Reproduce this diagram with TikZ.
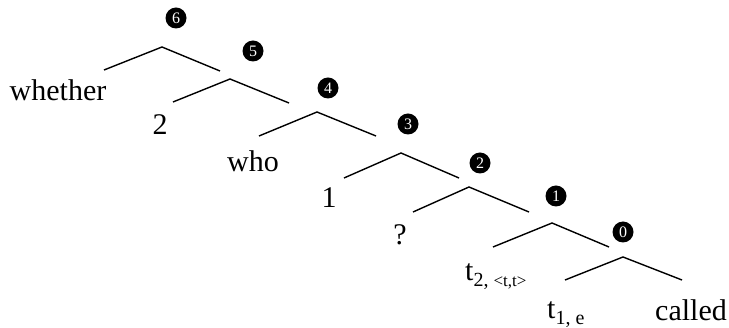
\documentclass[tikz,border=0pt]{standalone}
\usepackage{fontspec}
\setmainfont{Liberation Serif}
\begin{document}
\begin{tikzpicture}[x=1pt,y=-1pt,
  br/.style={line width=1.4pt},
  badge/.style={circle,fill=black,text=white,inner sep=0pt,minimum size=21pt,font=\fontsize{16}{16}\selectfont},
  leaf/.style={inner sep=0pt,font=\fontsize{30}{30}\selectfont}]
\useasboundingbox (0,0) rectangle (729,328);
% apex and branch ends
\coordinate (a6) at (162,47); \coordinate (l6) at (104,70); \coordinate (r6) at (220,71);
\coordinate (a5) at (230,79); \coordinate (l5) at (173,102); \coordinate (r5) at (289,103);
\coordinate (a4) at (317,112); \coordinate (l4) at (259,136); \coordinate (r4) at (376,136);
\coordinate (a3) at (401,153); \coordinate (l3) at (344,178); \coordinate (r3) at (459,178);
\coordinate (a2) at (469,187); \coordinate (l2) at (413,212); \coordinate (r2) at (529,212);
\coordinate (a1) at (552,223); \coordinate (l1) at (493,247); \coordinate (r1) at (609,247);
\coordinate (a0) at (623,257); \coordinate (l0) at (565,280); \coordinate (r0) at (682,280);
\foreach \i in {0,...,6}{\draw[br] (l\i) -- (a\i) -- (r\i);}
% badges
\node[badge] (b6) at (176,18) {6};
\node[badge] (b5) at (253,51) {5};
\node[badge] (b4) at (328,88) {4};
\node[badge] (b3) at (408,124) {3};
\node[badge] (b2) at (480,163) {2};
\node[badge] (b1) at (556,196) {1};
\node[badge] (b0) at (623,232) {0};
% leaves
\node[leaf,anchor=base] (w) at (58,101) {whether};
\node[leaf,anchor=base] (n2) at (160,135) {2};
\node[leaf,anchor=base] (who) at (253,172) {who};
\node[leaf,anchor=base] (n1) at (329,208) {1};
\node[leaf,anchor=base] (q) at (400,245) {?};
\node[leaf,anchor=base west] (t2) at (465,281) {t\raisebox{-6pt}{\fontsize{20}{20}\selectfont 2, \fontsize{17}{17}\selectfont<t,t>}};
\node[leaf,anchor=base west] (t1) at (547,319) {t\raisebox{-6pt}{\fontsize{20}{20}\selectfont 1, e}};
\node[leaf,anchor=base east] (c) at (727,321) {called};
\end{tikzpicture}
\end{document}
